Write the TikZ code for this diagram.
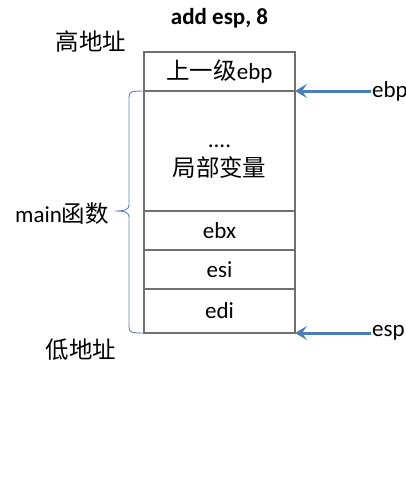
\documentclass[tikz,border=0pt]{standalone}
\usepackage{fontspec}
\setmainfont{Carlito}
\newfontfamily\cjk[Scale=1.02]{Noto Sans CJK SC}
\usepackage{tikz}
\usetikzlibrary{positioning,arrows.meta}
\definecolor{ink}    {HTML}{000000}
\definecolor{rule}   {HTML}{707070}
\definecolor{pointer}{HTML}{4A7EBB}
\definecolor{bracec} {HTML}{5B84C0}
\tikzset{
  every node/.style={font=\fontsize{23}{29}\selectfont, text=ink},
  % --- nodes
  cell/.style  = {draw=rule, line width=1.5pt, fill=white, align=center,
                  minimum width=151pt, inner sep=0pt, outer sep=0pt},
  reg/.style   = {inner sep=1pt},
  side/.style  = {inner sep=0pt},
  title/.style = {font=\fontsize{23}{29}\selectfont\bfseries},
  % --- edges
  ptr/.style   = {-{Stealth[length=12pt,width=14pt,inset=5pt]}, line width=3pt,
                  draw=pointer},
  brace/.style = {draw=bracec, line width=0.9pt},
}
\begin{document}
\begin{tikzpicture}[x=1pt,y=-1pt]
  \useasboundingbox (0,0) rectangle (406,504);
  % stack
  \node[cell, minimum height=39pt] (prev) at (219.5,71.5) {{\cjk 上一级}ebp};
  \node[cell, minimum height=120pt, below=0pt of prev] (locals) {\rule{0pt}{24pt}....\\{\cjk 局部变量}};
  \node[cell, minimum height=39pt, below=0pt of locals] (ebx) {ebx};
  \node[cell, minimum height=39pt, below=0pt of ebx] (esi) {esi};
  \node[cell, minimum height=44pt, below=0pt of esi] (edi) {edi};
  % labels
  \node[title] (head) at (219.5,18) {add esp, 8};
  \node[side] (high) at (91,42) {\cjk 高地址};
  \node[side] (low) at (81,350) {\cjk 低地址};
  \node[side, anchor=east] (mainf) at (109,214) {main{\cjk 函数}};
  \node[reg, anchor=west] (ebpl) at (371,91) {ebp};
  \node[reg, anchor=west] (espl) at (371,333) {esp};
  \draw[ptr] (ebpl.west) -- (prev.south east);
  \draw[ptr] (espl.west) -- (edi.south east);
  % brace
  \draw[brace] (prev.south west) .. controls (131,91) and (129,92) .. (129,97)
    -- (129,205) .. controls (129,210) and (124,211) .. (115,211)
    .. controls (124,211) and (129,212) .. (129,217)
    -- (129,327) .. controls (129,332) and (131,333) .. (edi.south west);
\end{tikzpicture}
\end{document}
